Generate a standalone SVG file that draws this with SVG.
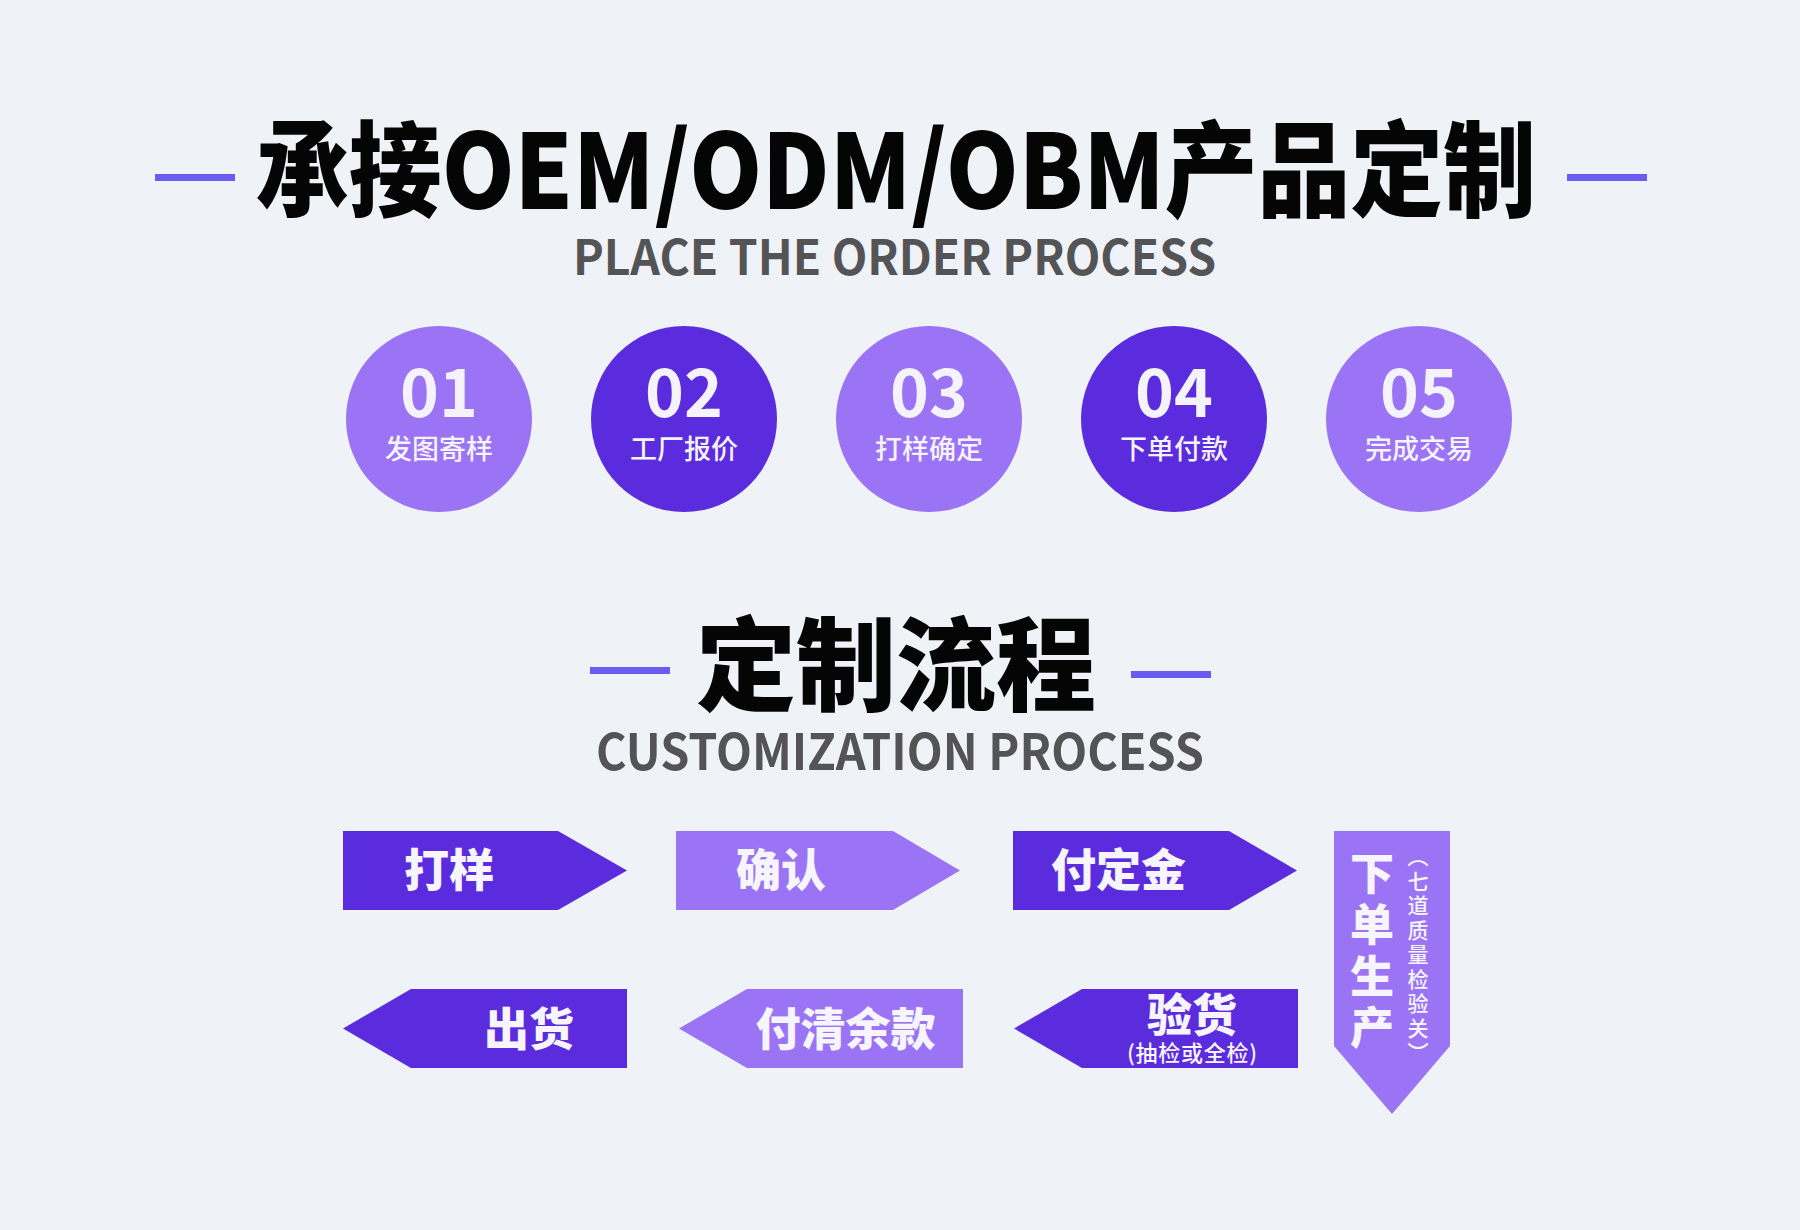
<svg xmlns="http://www.w3.org/2000/svg" width="1800" height="1230" viewBox="0 0 1800 1230">
<style>
.cjk{font-family:"Noto Sans CJK SC","Noto Sans",sans-serif}
.title{font-weight:900;fill:#050505}
.sub{font-weight:700;fill:#545457}
.dash{fill:#6a5cf0}
.dark{fill:#5b2bde}
.light{fill:#9b74f5}
.num{font-weight:700;fill:#f4f2fb;font-size:66px}
.lbl{font-weight:500;fill:#f4f2fb;font-size:27px}
.arr{font-weight:900;fill:#f6f4fc;font-size:45px}
.small{font-weight:500;fill:#f6f4fc;font-size:21px}
</style>
<rect width="1800" height="1230" fill="#eff2f7"/>

<g id="header1">
<rect class="dash" x="155" y="174" width="80" height="7"/>
<rect class="dash" x="1567" y="174" width="80" height="7"/>
<text class="cjk title" x="256" y="209" font-size="104" textLength="1280" lengthAdjust="spacingAndGlyphs">承接OEM/ODM/OBM产品定制</text>
<text class="cjk sub" x="573" y="275" font-size="49" textLength="643" lengthAdjust="spacingAndGlyphs">PLACE THE ORDER PROCESS</text>
</g>

<g id="step01">
<circle class="light" cx="439" cy="419" r="93"/>
<text class="cjk num" x="439" y="417" text-anchor="middle">01</text>
<text class="cjk lbl" x="439" y="459" text-anchor="middle">发图寄样</text>
</g>
<g id="step02">
<circle class="dark" cx="684" cy="419" r="93"/>
<text class="cjk num" x="684" y="417" text-anchor="middle">02</text>
<text class="cjk lbl" x="684" y="459" text-anchor="middle">工厂报价</text>
</g>
<g id="step03">
<circle class="light" cx="929" cy="419" r="93"/>
<text class="cjk num" x="929" y="417" text-anchor="middle">03</text>
<text class="cjk lbl" x="929" y="459" text-anchor="middle">打样确定</text>
</g>
<g id="step04">
<circle class="dark" cx="1174" cy="419" r="93"/>
<text class="cjk num" x="1174" y="417" text-anchor="middle">04</text>
<text class="cjk lbl" x="1174" y="459" text-anchor="middle">下单付款</text>
</g>
<g id="step05">
<circle class="light" cx="1419" cy="419" r="93"/>
<text class="cjk num" x="1419" y="417" text-anchor="middle">05</text>
<text class="cjk lbl" x="1419" y="459" text-anchor="middle">完成交易</text>
</g>

<g id="header2">
<rect class="dash" x="590" y="667" width="80" height="7"/>
<rect class="dash" x="1131" y="671" width="80" height="7"/>
<text class="cjk title" x="896" y="703" font-size="102" text-anchor="middle" textLength="400" lengthAdjust="spacingAndGlyphs">定制流程</text>
<text class="cjk sub" x="596" y="770" font-size="50" textLength="608" lengthAdjust="spacingAndGlyphs">CUSTOMIZATION PROCESS</text>
</g>

<g id="connectors"></g>

<g id="flow-sample">
<polygon class="dark" points="343,831 558,831 627,870.5 558,910 343,910"/>
<text class="cjk arr" x="449" y="887" text-anchor="middle">打样</text>
</g>
<g id="flow-confirm">
<polygon class="light" points="676,831 893,831 960,870.5 893,910 676,910"/>
<text class="cjk arr" x="781" y="887" text-anchor="middle">确认</text>
</g>
<g id="flow-deposit">
<polygon class="dark" points="1013,831 1229,831 1297,870.5 1229,910 1013,910"/>
<text class="cjk arr" x="1118.5" y="887" text-anchor="middle">付定金</text>
</g>
<g id="flow-production">
<polygon class="light" points="1334,831 1450,831 1450,1046 1392,1114 1334,1046"/>
<text class="cjk arr" x="1372" y="851" writing-mode="vertical-rl" style="font-size:44px;letter-spacing:7.5px">下单生产</text>
<text class="cjk small" x="1418" y="846" writing-mode="vertical-rl" style="letter-spacing:3.5px">（七道质量检验关）</text>
</g>
<g id="flow-inspect">
<polygon class="dark" points="1298,989 1082,989 1014,1028.5 1082,1068 1298,1068"/>
<text class="cjk arr" x="1192" y="1032" text-anchor="middle">验货</text>
<text class="cjk small" x="1192" y="1061" text-anchor="middle" textLength="130" lengthAdjust="spacing" style="font-size:22px">(抽检或全检)</text>
</g>
<g id="flow-balance">
<polygon class="light" points="963,989 747,989 679,1028.5 747,1068 963,1068"/>
<text class="cjk arr" x="845.5" y="1046" text-anchor="middle">付清余款</text>
</g>
<g id="flow-ship">
<polygon class="dark" points="627,989 411,989 343,1028.5 411,1068 627,1068"/>
<text class="cjk arr" x="529" y="1046" text-anchor="middle">出货</text>
</g>
</svg>
